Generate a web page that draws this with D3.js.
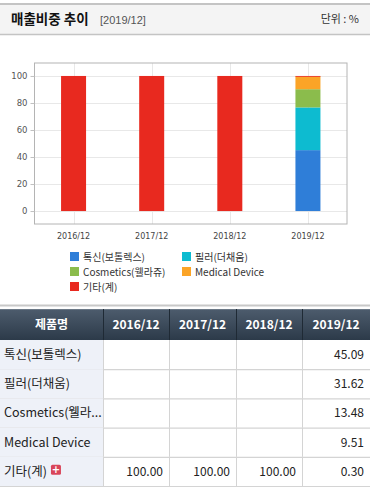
<!DOCTYPE html>
<html><head><meta charset="utf-8">
<script src="https://cdn.jsdelivr.net/npm/d3@7"></script>
<style>
body{margin:0;background:#fff;font-family:"Noto Sans CJK KR","Noto Sans",sans-serif;}
svg{display:block}
</style></head><body>
<svg id="c" width="378" height="497"></svg>
<script>
const categories=["2016/12","2017/12","2018/12","2019/12"];
const seriesNames=["톡신(보톨렉스)","필러(더채움)","Cosmetics(웰라쥬)","Medical Device","기타(계)"];
const tableNames=["톡신(보톨렉스)","필러(더채움)","Cosmetics(웰라...","Medical Device","기타(계)"];
const toxin=[null,null,null,45.09];
const filler=[null,null,null,31.62];
const cosmetics=[null,null,null,13.48];
const medical=[null,null,null,9.51];
const etc=[100.00,100.00,100.00,0.30];
const colors=["#2f7ed8","#0dbbd0","#8bbc4c","#fba427","#e8291f"];
const yTicks=[0,20,40,60,80,100];
const series=[toxin,filler,cosmetics,medical,etc];

const svg=d3.select("#c");
const font='"Noto Sans CJK KR","Noto Sans",sans-serif';

// header band
svg.append("rect").attr("x",0).attr("y",4).attr("width",370).attr("height",31).attr("fill","#f4f4f4");
svg.append("line").attr("x1",0).attr("x2",370).attr("y1",4).attr("y2",4).attr("stroke","#c4c4c4").attr("stroke-width",2);
svg.append("line").attr("x1",0).attr("x2",370).attr("y1",34.5).attr("y2",34.5).attr("stroke","#c4c4c4").attr("stroke-width",1.5);
svg.append("text").attr("x",11).attr("y",24).attr("font-family",font).attr("font-size",13.5).attr("font-weight","bold").attr("fill","#111").text("매출비중 추이");
svg.append("text").attr("x",100).attr("y",24).attr("font-family","Liberation Sans, sans-serif").attr("font-size",11).attr("fill","#555").text("[2019/12]");
svg.append("text").attr("x",359).attr("y",23).attr("text-anchor","end").attr("font-family",font).attr("font-size",11).attr("fill","#333").text("단위 : %");

// chart
const L=34.5,R=347,T=63,B=224;
const x=d3.scaleBand().domain(categories).range([L,R]).paddingInner(0).paddingOuter(0);
const y=d3.scaleLinear().domain([-9.6,109.6]).range([B,T]);
const g=svg.append("g");
g.selectAll(".hg").data(yTicks).join("line").attr("x1",L).attr("x2",R).attr("y1",d=>Math.round(y(d))+0.5).attr("y2",d=>Math.round(y(d))+0.5).attr("stroke","#e8e8e8");
g.selectAll(".vg").data(categories).join("line").attr("y1",T).attr("y2",B).attr("x1",d=>Math.round(x(d)+x.bandwidth()/2)+0.5).attr("x2",d=>Math.round(x(d)+x.bandwidth()/2)+0.5).attr("stroke","#e8e8e8");
const bw=25;
categories.forEach((c,i)=>{
  let acc=0;
  series.forEach((s,k)=>{
    const v=s[i]; if(v==null) return;
    const y0=y(acc), y1=y(acc+v);
    g.append("rect").attr("x",x(c)+x.bandwidth()/2-bw/2).attr("width",bw).attr("y",y1).attr("height",Math.max(0.8,y0-y1)).attr("fill",colors[k]);
    acc+=v;
  });
});
g.append("rect").attr("x",L).attr("y",T).attr("width",R-L).attr("height",B-T).attr("fill","none").attr("stroke","#b4b4b4");
const ya=svg.append("g").attr("transform",`translate(${L},0)`).call(d3.axisLeft(y).tickValues(yTicks).tickSize(4).tickPadding(3));
ya.select(".domain").remove();
ya.selectAll("line").attr("stroke","#c0c0c0");
ya.selectAll("text").attr("font-family","DejaVu Sans, sans-serif").attr("font-size",8.5).attr("fill","#555");
const xa=svg.append("g").attr("transform",`translate(0,${B})`).call(d3.axisBottom(x).tickSize(0).tickPadding(9));
xa.select(".domain").remove();
xa.selectAll("text").attr("font-family","DejaVu Sans, sans-serif").attr("font-size",8).attr("fill","#444");

// legend
const legPos=[[70,257],[182,257],[70,272],[182,272],[70,287]];
seriesNames.forEach((n,k)=>{
  const [lx,ly]=legPos[k];
  svg.append("rect").attr("x",lx).attr("y",ly-5).attr("width",9).attr("height",9).attr("fill",colors[k]);
  svg.append("text").attr("x",lx+13).attr("y",ly+3.5).attr("font-family",font).attr("font-size",10).attr("fill","#333").text(n);
});

svg.append("line").attr("x1",0).attr("x2",370).attr("y1",305.5).attr("y2",305.5).attr("stroke","#c8c8c8").attr("stroke-width",2);

// table
const colX=[0,103,169,236,302,370];
const hdrTop=309,hdrH=31,rowH=29.2;
const defs=svg.append("defs");
const gr=defs.append("linearGradient").attr("id","hg").attr("x1",0).attr("x2",0).attr("y1",0).attr("y2",1);
gr.append("stop").attr("offset","0%").attr("stop-color","#4d5c6d");
gr.append("stop").attr("offset","100%").attr("stop-color","#2c3a49");
svg.append("rect").attr("x",0).attr("y",hdrTop).attr("width",370).attr("height",hdrH).attr("fill","url(#hg)");
svg.append("line").attr("x1",0).attr("x2",370).attr("y1",hdrTop+0.5).attr("y2",hdrTop+0.5).attr("stroke","#6b7886");
const headers=["제품명",...categories];
headers.forEach((h,i)=>{
  if(i>0) svg.append("line").attr("x1",colX[i]+0.5).attr("x2",colX[i]+0.5).attr("y1",hdrTop).attr("y2",hdrTop+hdrH).attr("stroke","#1f2a35");
  svg.append("text").attr("x",(colX[i]+colX[i+1])/2).attr("y",hdrTop+20).attr("text-anchor","middle")
    .attr("font-family",font).attr("font-size",12).attr("font-weight","bold").attr("fill","#fff").text(h);
});
const fmt=d3.format(".2f");
tableNames.forEach((n,r)=>{
  const ty=hdrTop+hdrH+r*rowH;
  svg.append("rect").attr("x",0).attr("y",ty).attr("width",colX[1]).attr("height",rowH).attr("fill","#eef1f8");
  svg.append("line").attr("x1",0).attr("x2",370).attr("y1",ty+rowH+0.5).attr("y2",ty+rowH+0.5).attr("stroke","#d4d4d4").attr("stroke-width",1.2);
  for(let i=1;i<5;i++) svg.append("line").attr("x1",colX[i]+0.5).attr("x2",colX[i]+0.5).attr("y1",ty).attr("y2",ty+rowH).attr("stroke","#d4d4d4");
  const t=svg.append("text").attr("x",4).attr("y",ty+19).attr("font-family",font).attr("font-size",12.5).attr("fill","#222").text(n);
  if(r===4){
    const w=t.node().getComputedTextLength();
    svg.append("rect").attr("x",4+w+4).attr("y",ty+8).attr("width",10).attr("height",10).attr("rx",1.5).attr("fill","#d9455a");
    svg.append("text").attr("x",4+w+9).attr("y",ty+16.5).attr("text-anchor","middle").attr("font-size",10).attr("font-weight","bold").attr("font-family","DejaVu Sans").attr("fill","#fff").text("+");
  }
  series[r].forEach((v,i)=>{
    if(v==null) return;
    svg.append("text").attr("x",colX[i+2]-6).attr("y",ty+19).attr("text-anchor","end").attr("font-family",font).attr("font-size",12).attr("fill","#222").text(fmt(v));
  });
});
</script></body></html>
